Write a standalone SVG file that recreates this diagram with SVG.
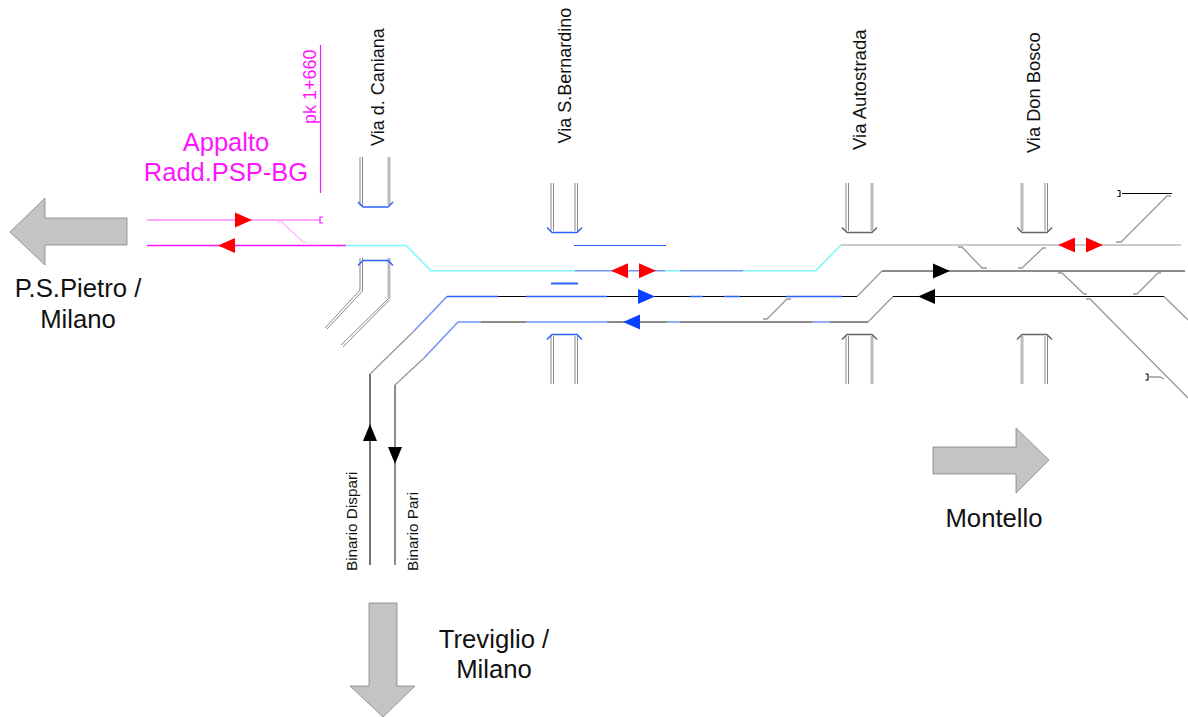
<svg xmlns="http://www.w3.org/2000/svg" width="1188" height="717" viewBox="0 0 1188 717">
<style>
text{font-family:"Liberation Sans",Arial,sans-serif}
.t{fill:none;stroke-linejoin:miter}
.bk{stroke:#000;stroke-width:1.100}
.dk{stroke:#666;stroke-width:1.500}
.gy{stroke:#999;stroke-width:1.300}
.lg{stroke:#bbb;stroke-width:1.600}
.bl{stroke:#2a62ff;stroke-width:1.500}
.lb{stroke:#7393f5;stroke-width:1.600}
.cy{stroke:#7df7f7;stroke-width:1.600}
.mg{stroke:#ff14ff;stroke-width:1.200}
.mgw{stroke:#ff14ff;stroke-width:1.600}
.pk{stroke:#ff8cff;stroke-width:1.600}
.lp{stroke:#ffb0ff;stroke-width:1.200}
.dbl{stroke:#888;stroke-width:1}
.th{stroke:#bbb;stroke-width:3}
.big{fill:#c4c4c4;stroke:#777;stroke-width:.7}
.lab{font-size:18px;fill:#111}
.sm{font-size:15.300px;fill:#111}
.city{font-size:25.700px;fill:#111;text-anchor:middle}
.app{font-size:25.500px;fill:#ff14ff;text-anchor:middle}
</style>
<defs>
<path id="r" d="M0-7.500 17 0 0 7.500Z"/>
<path id="l" d="M17-7.500 0 0 17 7.500Z"/>
<g id="bt" class="t"><path d="M-5-5 0 0H25L30-5"/></g>
<g id="bb" class="t"><path d="M-5 5 0 0H25L30 5"/></g>
</defs>

<g id="connectors">
<g id="track-appalto">
<path class="t pk" d="M147 220H320"/>
<path class="t mgw" d="M147 245.500H346"/>
<path class="t lp" d="M277 222H282L303 242H306"/>
<path class="t mg" d="M323 217H320V223H323"/>
<path class="t mg" d="M320.500 45V193"/>
</g>
<g id="track-top">
<path class="t cy" d="M346 245.500H406L431 270.700H575"/>
<path class="t lb" d="M575 270.700H665M680 270.700H743"/>
<path class="t cy" d="M665 270.700H680M743 270.700H815.700L841 245"/>
<path class="t lg" d="M841 245H1181"/>
</g>
<g id="track-dispari">
<path class="t bk" d="M370 565V374"/>
<path class="t gy" d="M370 374 414 331"/>
<path class="t lb" d="M414 331 447 296.500"/>
<path class="t bl" d="M447 296.500H498M526 296.500H607M690 296.500H703M724 296.500H740M786 296.500H842"/>
<path class="t bk" d="M498 296.500H526M607 296.500H690M703 296.500H724M740 296.500H786M842 296.500H857"/>
<path class="t gy" d="M857 296.500 882 271"/>
<path class="t dk" d="M882 271H1185"/>
</g>
<g id="track-pari">
<path class="t dk" d="M395 565V385"/>
<path class="t gy" d="M395 385 424 358"/>
<path class="t lb" d="M424 358 458 322H481M526 322H607M667 322H680M812 322H830"/>
<path class="t dk" d="M481 322H526M607 322H667M680 322H812M830 322H868"/>
<path class="t gy" d="M868 322 893 296.500"/>
<path class="t bk" d="M893 296.500H1164"/>
<path class="t gy" d="M1164 296.500 1188 320"/>
</g>
<g id="crossovers">
<path class="t gy" d="M958 247H962L982 268H987M1018 268H1022L1043 248H1046M1058 273H1062L1084 294H1087M1133 294H1137L1158 273H1161M1086 299H1090L1188 398M1116 242H1121L1167 196H1171M763 319H767L787 299H791"/>
<path class="t bk" d="M1122 193.500H1172M1120 190.500H1117.500M1120 190.500V196.500H1117.500"/>
<path class="t bk" d="M1148 374H1145.500M1148 374V380H1145.500"/>
<path class="t gy" d="M1148 377H1160L1164 379"/>
</g>
<g id="extra-blue">
<path class="t bl" style="stroke-width:1.100" d="M574 245.500H666"/>
<path class="t bl" style="stroke-width:2" d="M551 283.500H578"/>
</g>
<g id="track-arrows">
<use href="#r" x="235" y="220" fill="#f00"/>
<use href="#l" x="218" y="245.500" fill="#f00"/>
<use href="#l" x="611" y="270.700" fill="#f00"/>
<use href="#r" x="639" y="270.700" fill="#f00"/>
<use href="#r" x="638" y="296.500" fill="#0a40ff"/>
<use href="#l" x="623" y="322" fill="#0a40ff"/>
<use href="#r" x="933" y="271" fill="#000"/>
<use href="#l" x="918" y="296.500" fill="#000"/>
<use href="#l" x="1058" y="245" fill="#f00"/>
<use href="#r" x="1086" y="245" fill="#f00"/>
<path d="M370 424 377 441H363Z" fill="#000"/>
<path d="M395 464 388 447H402Z" fill="#000"/>
</g>
</g>

<g id="via-caniana">
<path class="t dbl" d="M360 157V206M362.500 157V206M360 258V290L325 328M362.500 258V291L327 329"/>
<path class="t th" d="M389 157V205M389 258V299"/>
<path class="t dbl" d="M388 299 341 345M390 299.500 343 347"/>
<use href="#bt" x="363" y="207" class="bl"/>
<use href="#bb" x="363" y="260.500" class="bl"/>
<text class="lab" transform="translate(384 146) rotate(-90)">Via d. Caniana</text>
</g>
<g id="via-bernardino">
<path class="t dbl" d="M551 183V231M553.500 183V231M575 183V231M577.500 183V231M551 336V384M553.500 336V384M575 336V384M577.500 336V384"/>
<use href="#bt" x="552" y="232.500" class="bl"/>
<use href="#bb" x="552" y="334.500" class="bl"/>
<text class="lab" transform="translate(571 143.500) rotate(-90)">Via S.Bernardino</text>
</g>
<g id="via-autostrada">
<path class="t dbl" d="M846 183V231M848.500 183V231"/>
<path class="t th" d="M872 183V231M872 336V384"/>
<path class="t dbl" d="M846 336V384M848.500 336V384"/>
<use href="#bt" x="847" y="232.500" class="dk"/>
<use href="#bb" x="847" y="334.500" class="dk"/>
<text class="lab" style="font-size:18.600px" transform="translate(866 150) rotate(-90)">Via Autostrada</text>
</g>
<g id="via-don-bosco">
<path class="t th" d="M1022 183V231M1022 336V384"/>
<path class="t dbl" d="M1045 183V231M1047.500 183V231M1045 336V384M1047.500 336V384"/>
<use href="#bt" x="1022" y="232.500" class="dk"/>
<use href="#bb" x="1022" y="334.500" class="dk"/>
<text class="lab" style="font-size:18.300px" transform="translate(1040 153) rotate(-90)">Via Don Bosco</text>
</g>

<g id="pk-label"><text transform="translate(316 124) rotate(-90)" font-size="18" fill="#ff14ff">pk 1+660</text></g>
<g id="appalto-label">
<text class="app" x="226" y="151">Appalto</text>
<text class="app" x="226" y="181">Radd.PSP-BG</text>
</g>
<g id="binario-dispari"><text class="sm" transform="translate(357 571) rotate(-90)">Binario Dispari</text></g>
<g id="binario-pari"><text class="sm" transform="translate(418 571) rotate(-90)">Binario Pari</text></g>

<g id="to-pspietro">
<path class="big" d="M10 232 45 198V218H127V245H45V265Z"/>
<text class="city" x="78" y="297">P.S.Pietro /</text>
<text class="city" x="78" y="328">Milano</text>
</g>
<g id="to-montello">
<path class="big" d="M933 447H1016V428L1049 460 1016 493V474H933Z"/>
<text class="city" x="994" y="527">Montello</text>
</g>
<g id="to-treviglio">
<path class="big" d="M369 603H397V686H415L383 717 350 686H369Z"/>
<text class="city" x="494" y="648">Treviglio /</text>
<text class="city" x="494" y="678">Milano</text>
</g>
</svg>
